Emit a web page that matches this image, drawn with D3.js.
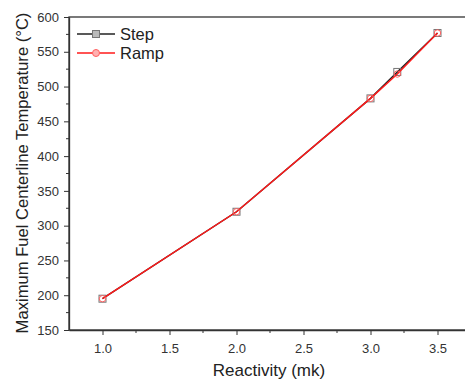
<!DOCTYPE html>
<html>
<head>
<meta charset="utf-8">
<script src="https://cdn.jsdelivr.net/npm/d3@7"></script>
<style>
  body { margin: 0; background: #fff; }
  svg { font-family: "Liberation Sans", Arial, sans-serif; }
</style>
</head>
<body>
<div id="chart"></div>
<script>
// data
const reactivity = [1.0, 2.0, 3.0, 3.2, 3.5];
const stepTemp = [195, 320, 483, 521, 577];
const rampTemp = [195, 320, 483, 518, 577];
const xTicks = [1.0, 1.5, 2.0, 2.5, 3.0, 3.5];
const yTicks = [150, 200, 250, 300, 350, 400, 450, 500, 550, 600];

const width = 465, height = 379;
const margin = { top: 17, right: -6, bottom: 49, left: 69 };

const svg = d3.select("#chart").append("svg")
  .attr("width", width).attr("height", height);

const x = d3.scaleLinear().domain([0.75, 3.75]).range([margin.left, width - margin.right]);
const y = d3.scaleLinear().domain([150, 600]).range([height - margin.bottom, margin.top]);

const axisColor = "#333";

// frame
svg.append("rect")
  .attr("x", margin.left).attr("y", margin.top)
  .attr("width", x(3.75) - margin.left).attr("height", y(150) - margin.top)
  .attr("fill", "none").attr("stroke", axisColor).attr("stroke-width", 1.3);

// x axis
const gx = svg.append("g")
  .attr("transform", `translate(0,${y(150)})`)
  .call(d3.axisBottom(x).tickValues(xTicks).tickFormat(d3.format(".1f")).tickSize(5).tickSizeOuter(0));
gx.append("g").selectAll("line")
  .data(xTicks.map(d => d + 0.25))
  .join("line")
  .attr("x1", d => x(d)).attr("x2", d => x(d))
  .attr("y1", 0).attr("y2", 3)
  .attr("stroke", axisColor);

// y axis
const gy = svg.append("g")
  .attr("transform", `translate(${margin.left},0)`)
  .call(d3.axisLeft(y).tickValues(yTicks).tickSize(5).tickSizeOuter(0));
gy.append("g").selectAll("line")
  .data(yTicks.slice(0, -1).map(d => d + 25))
  .join("line")
  .attr("y1", d => y(d)).attr("y2", d => y(d))
  .attr("x1", 0).attr("x2", -3)
  .attr("stroke", axisColor);

[gx, gy].forEach(g => {
  g.select(".domain").attr("stroke", axisColor).attr("stroke-width", 1.3);
  g.selectAll(".tick line").attr("stroke", axisColor);
  g.selectAll("text").attr("fill", "#333").style("font-size", "13px");
});
gx.selectAll(".tick text").attr("dy", "1.15em");
gy.selectAll(".tick text").attr("x", -10);

// axis titles
svg.append("text")
  .attr("x", 269).attr("y", 376)
  .attr("text-anchor", "middle")
  .attr("fill", "#222").style("font-size", "17px")
  .text("Reactivity (mk)");

svg.append("text")
  .attr("transform", "translate(28,173) rotate(-90)")
  .attr("text-anchor", "middle")
  .attr("fill", "#222").style("font-size", "16.6px")
  .text("Maximum Fuel Centerline Temperature (°C)");

// series
const stepPts = reactivity.map((r, i) => [r, stepTemp[i]]);
const rampPts = reactivity.map((r, i) => [r, rampTemp[i]]);
const line = d3.line().x(d => x(d[0])).y(d => y(d[1]));

svg.append("path").datum(stepPts)
  .attr("d", line).attr("fill", "none")
  .attr("stroke", "#222").attr("stroke-width", 1.5);

svg.append("g").selectAll("rect")
  .data(stepPts)
  .join("rect")
  .attr("x", d => x(d[0]) - 3.5).attr("y", d => y(d[1]) - 3.5)
  .attr("width", 7).attr("height", 7)
  .attr("fill", "none").attr("stroke", "#777").attr("stroke-width", 1);

svg.append("path").datum(rampPts)
  .attr("d", line).attr("fill", "none")
  .attr("stroke", "#ff1a1a").attr("stroke-width", 1.5);

svg.append("g").selectAll("circle")
  .data(rampPts)
  .join("circle")
  .attr("cx", d => x(d[0])).attr("cy", d => y(d[1]))
  .attr("r", 3.2)
  .attr("fill", "none").attr("stroke", "#ff6060").attr("stroke-width", 1);

// legend
const legend = svg.append("g");
const items = [
  { name: "Step", color: "#222", marker: "square", yPos: 34 },
  { name: "Ramp", color: "#ff1a1a", marker: "circle", yPos: 53 }
];
items.forEach(it => {
  legend.append("line")
    .attr("x1", 77).attr("x2", 115)
    .attr("y1", it.yPos).attr("y2", it.yPos)
    .attr("stroke", it.color).attr("stroke-width", 1.5);
  if (it.marker === "square") {
    legend.append("rect")
      .attr("x", 96 - 3.5).attr("y", it.yPos - 3.5)
      .attr("width", 7).attr("height", 7)
      .attr("fill", "#bbb").attr("stroke", "#777");
  } else {
    legend.append("circle")
      .attr("cx", 96).attr("cy", it.yPos).attr("r", 3.5)
      .attr("fill", "#ffb0b0").attr("stroke", "#ff6060");
  }
  legend.append("text")
    .attr("x", 120).attr("y", it.yPos + 6)
    .attr("fill", "#222").style("font-size", "16.5px")
    .text(it.name);
});
</script>
</body>
</html>
